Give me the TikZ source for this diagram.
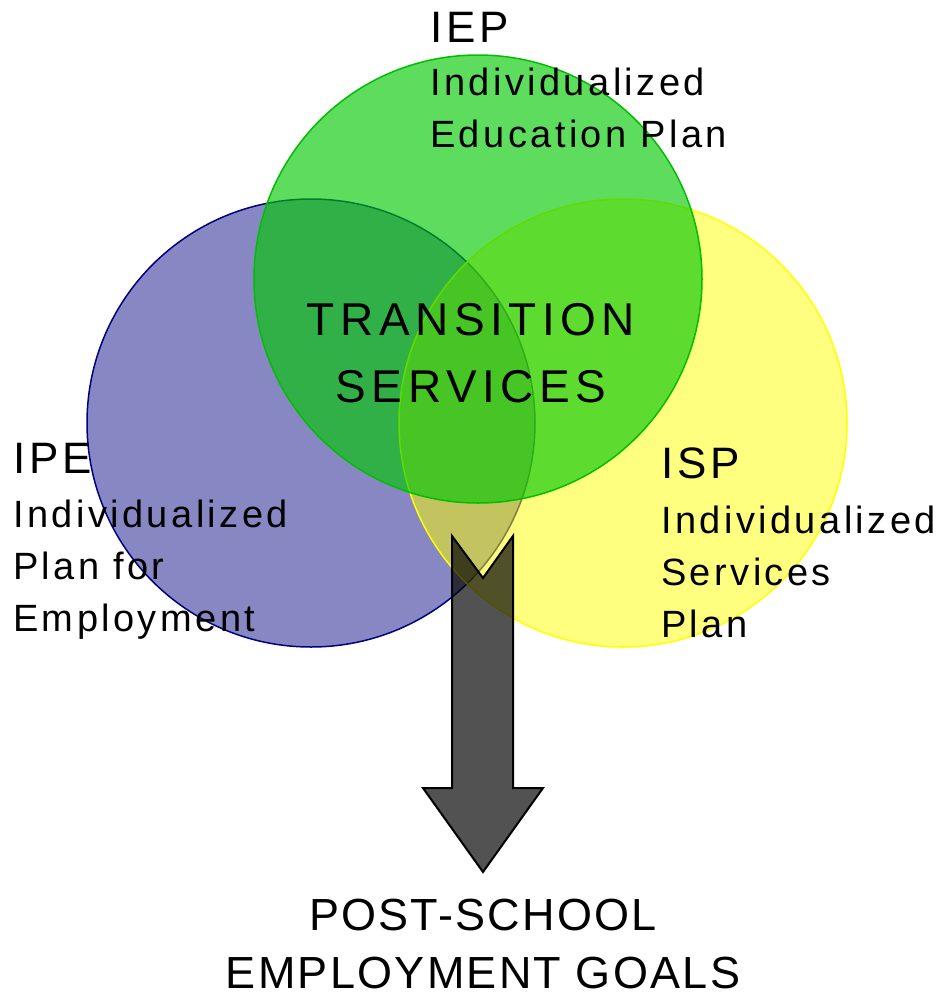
\documentclass[tikz,border=0pt]{standalone}
\usepackage{fontspec}
\setmainfont{Liberation Sans}
\newfontfamily\labfont{Liberation Sans}[LetterSpace=9]
\newfontfamily\midfont{Liberation Sans}[LetterSpace=12]
\newfontfamily\botfont{Liberation Sans}[LetterSpace=5]
\definecolor{cblue}{RGB}{0,0,128}
\definecolor{cgreen}{RGB}{0,200,0}
\definecolor{cgreenline}{RGB}{0,190,0}
\definecolor{cyellow}{RGB}{255,255,0}
\tikzset{
  venn/.style={line width=1.5pt},
  title/.style={inner sep=0pt, anchor=base west, font=\labfont\fontsize{44}{52}\selectfont},
  desc/.style={inner sep=0pt, anchor=base west, align=left, font=\labfont\fontsize{38}{52}\selectfont},
  center/.style={inner sep=0pt, anchor=base, align=center, font=\midfont\fontsize{46}{67}\selectfont},
  goal/.style={inner sep=0pt, anchor=base, align=center, text depth=0pt, font=\botfont\fontsize{45}{58}\selectfont},
  bigarrow/.style={fill=black, fill opacity=0.68, draw=black, draw opacity=1, line width=2pt, line join=miter}
}
\begin{document}
\begin{tikzpicture}[x=1pt,y=-1pt]
\useasboundingbox (0,0) rectangle (943,994);
% circles
\draw[venn, draw=cblue, fill=cblue, fill opacity=0.47] (311,423) circle[radius=224pt];
\draw[venn, draw=cyellow, fill=cyellow, fill opacity=0.5] (623,423) circle[radius=224pt];
\draw[venn, draw=cgreenline, fill=cgreen, fill opacity=0.63] (478,279) circle[radius=224pt];
% arrow
\draw[bigarrow] (452,536) -- (483,578) -- (513,536) -- (513,788) -- (543,788) -- (483,872) -- (423,788) -- (452,788) -- cycle;
% labels (base anchor of a multi-line node = baseline of its last line)
\node[title] (iep) at (430,42) {IEP};
\node[desc] (iepd) at (430,147) {Individualized\\Education Plan};
\node[title] (ipe) at (13,473) {IPE};
\node[desc] (iped) at (13,631) {Individualized\\Plan for\\Employment};
\node[title] (isp) at (661,478) {ISP};
\node[desc] (ispd) at (661,637) {Individualized\\Services\\Plan};
\node[center] (ts) at (471,402) {TRANSITION\\SERVICES};
\node[goal] (goals) at (483,988) {POST-SCHOOL\\EMPLOYMENT GOALS};
\end{tikzpicture}
\end{document}
